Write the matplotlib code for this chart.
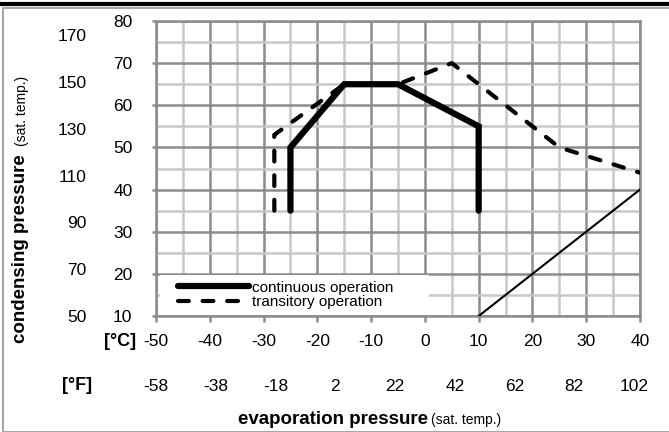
import matplotlib.pyplot as plt
import numpy as np
from matplotlib.patches import Rectangle
from matplotlib.lines import Line2D

plt.rcParams['font.family'] = ['Liberation Sans', 'DejaVu Sans']
plt.rcParams['axes.unicode_minus'] = False

# envelope data, evaporation temp (C) vs condensing temp (C)
cont_x = [-25, -25, -15, -5, 10, 10]
cont_y = [35, 50, 65, 65, 55, 35]
trans_x = [-28, -28, -15, -5, 5, 25, 40]
trans_y = [35, 53, 65, 65, 70, 50, 44]
limit_x = [10, 40]
limit_y = [10, 40]

c_xticks = [-50, -40, -30, -20, -10, 0, 10, 20, 30, 40]
c_yticks = [10, 20, 30, 40, 50, 60, 70, 80]
f_xticks = [-58, -38, -18, 2, 22, 42, 62, 82, 102]
f_yticks = [50, 70, 90, 110, 130, 150, 170]


def c2f(c):
    return np.asarray(c) * 1.8 + 32


def f2c(f):
    return (np.asarray(f) - 32) / 1.8


W, H = 669, 432
fig = plt.figure(figsize=(W / 100, H / 100), dpi=100)

# outer frame + top rule
fig.patches.append(Rectangle((3 / W, 0), 1, 1 - 8 / H, transform=fig.transFigure,
                             fill=False, edgecolor='#a6a6a6', lw=1.5))
fig.lines.append(Line2D([0, 1], [1 - 4 / H, 1 - 4 / H], transform=fig.transFigure,
                        color='black', lw=3))

x0, x1, y0, y1 = 156, 640, 21, 316
ax = fig.add_axes([x0 / W, 1 - y1 / H, (x1 - x0) / W, (y1 - y0) / H])
ax.set_xlim(-50, 40)
ax.set_ylim(10, 80)
ax.set_xticks(c_xticks)
ax.set_yticks(c_yticks)
ax.set_xticks(np.arange(-45, 40, 10), minor=True)
ax.set_yticks(np.arange(15, 80, 10), minor=True)
ax.set_axisbelow(True)
ax.grid(which='major', color='#8c8c8c', lw=1.8)
ax.grid(which='minor', color='#c8c8c8', lw=1.8)
for s in ax.spines.values():
    s.set_color('#8c8c8c')
    s.set_linewidth(1.8)
ax.tick_params(which='minor', length=0)
ax.tick_params(axis='x', which='major', length=4, width=1.8, color='#8c8c8c',
               labelsize=12.5, pad=9)
ax.tick_params(axis='y', which='major', length=3, width=1.8, color='#8c8c8c',
               labelsize=12.5, pad=14)

ax.plot(limit_x, limit_y, color='black', lw=1.5, zorder=3)
ax.plot(trans_x, trans_y, color='black', lw=3, linestyle=(0, (2.6, 3.3)),
        dash_capstyle='round', zorder=4, label='transitory operation')
ax.plot(cont_x, cont_y, color='black', lw=4.5, solid_capstyle='round',
        solid_joinstyle='miter', zorder=5, label='continuous operation')

# white box behind the legend, covering the grid
ax.add_patch(Rectangle((0.008, 0.003), 0.556, 0.137, transform=ax.transAxes,
                       facecolor='white', edgecolor='none', zorder=2.2))
h, l = ax.get_legend_handles_labels()
leg = ax.legend(h[::-1], l[::-1], loc='lower left', bbox_to_anchor=(0.04, 0.012),
                fontsize=11, frameon=False, handlelength=4.6,
                handletextpad=0.2, borderpad=0.2, labelspacing=0.05,
                borderaxespad=0)
leg.set_zorder(6)

# Fahrenheit scales
secx = ax.secondary_xaxis(-0.2, functions=(c2f, f2c))
secx.set_xticks(f_xticks)
secx.tick_params(length=0, labelsize=12.5, pad=3)
secx.spines['bottom'].set_visible(False)

secy = ax.secondary_yaxis(-0.135, functions=(c2f, f2c))
secy.set_yticks(f_yticks)
secy.tick_params(length=0, labelsize=12.5, pad=3)
secy.spines['left'].set_visible(False)

fig.text(136 / W, 1 - 342 / H, '[°C]', fontsize=13, fontweight='bold',
         ha='right', va='center')
fig.text(92 / W, 1 - 385 / H, '[°F]', fontsize=13, fontweight='bold',
         ha='right', va='center')

fig.text(428 / W, 1 - 419 / H, 'evaporation pressure', fontsize=13.5,
         fontweight='bold', ha='right', va='center')
fig.text(431 / W, 1 - 420 / H, '(sat. temp.)', fontsize=10, ha='left', va='center')

fig.text(21 / W, 1 - 343 / H, 'condensing pressure', fontsize=13.5,
         fontweight='bold', rotation=90, ha='center', va='bottom')
fig.text(22 / W, 1 - 146 / H, '(sat. temp.)', fontsize=10, rotation=90,
         ha='center', va='bottom')

fig.savefig('out.png', dpi=100)
